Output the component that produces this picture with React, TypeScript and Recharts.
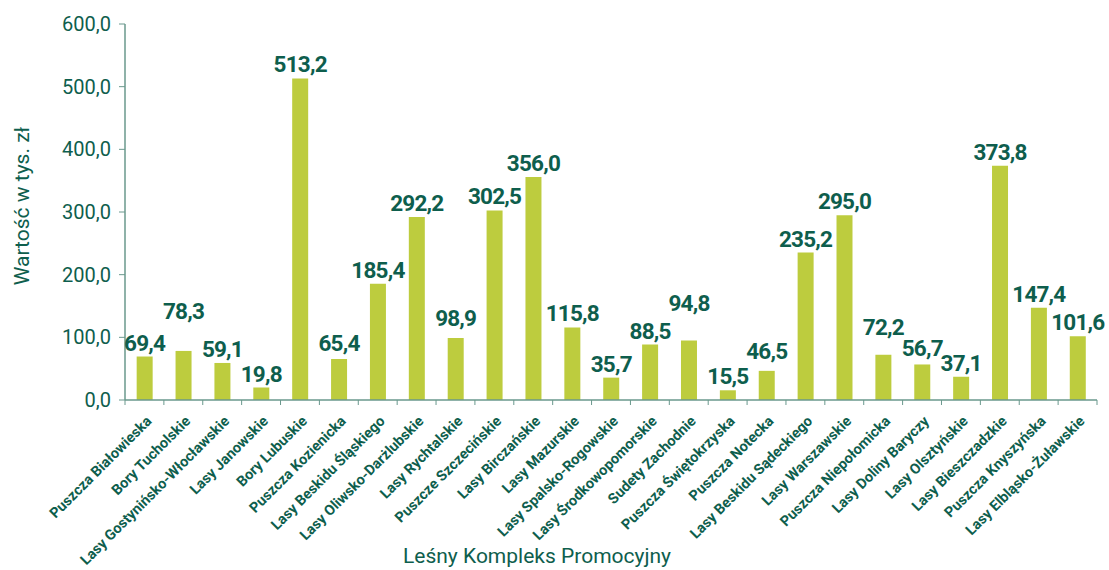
import { BarChart, Bar, XAxis, YAxis, LabelList } from 'recharts';

const complexes = [
  'Puszcza Białowieska', 'Bory Tucholskie', 'Lasy Gostynińsko-Włocławskie', 'Lasy Janowskie',
  'Bory Lubuskie', 'Puszcza Kozienicka', 'Lasy Beskidu Śląskiego', 'Lasy Oliwsko-Darżlubskie',
  'Lasy Rychtalskie', 'Puszcze Szczecińskie', 'Lasy Birczańskie', 'Lasy Mazurskie',
  'Lasy Spalsko-Rogowskie', 'Lasy Środkowopomorskie', 'Sudety Zachodnie', 'Puszcza Świętokrzyska',
  'Puszcza Notecka', 'Lasy Beskidu Sądeckiego', 'Lasy Warszawskie', 'Puszcza Niepołomicka',
  'Lasy Doliny Baryczy', 'Lasy Olsztyńskie', 'Lasy Bieszczadzkie', 'Puszcza Knyszyńska',
  'Lasy Elbląsko-Żuławskie',
];

const values = [
  69.4, 78.3, 59.1, 19.8, 513.2, 65.4, 185.4, 292.2, 98.9, 302.5, 356.0, 115.8, 35.7,
  88.5, 94.8, 15.5, 46.5, 235.2, 295.0, 72.2, 56.7, 37.1, 373.8, 147.4, 101.6,
];

const yTicks = [0, 100, 200, 300, 400, 500, 600];

// extra lift (px) for value labels that Excel pushed up to avoid overlaps
const labelLift = [0, 26, 0, 0, 0, 2, 0, 0, 6, 0, 0, 0, 0, 0, 24, 0, 6, 0, 0, 14, 2, 0, 0, 0, 0];

const TEXT = '#0e5e4d';
const AXIS = '#6a988d';
const BAR = '#bdcc3e';
const FONT = 'Roboto, "Noto Sans", sans-serif';

const W = 1109;
const H = 570;
const X_AXIS_H = 170;
const margin = { top: 24, right: 12, left: 0, bottom: 0 };
const Y_AXIS_W = 125;
const band = (W - margin.left - margin.right - Y_AXIS_W) / complexes.length;

const chartData = complexes.map((name, i) => ({ name, value: values[i] }));

const fmt = (v: number) => v.toFixed(1).replace('.', ',');

function CategoryTick(props: any) {
  const { x, y, payload, index } = props;
  const left = x - band / 2;
  const right = x + band / 2;
  return (
    <g>
      <line x1={left} y1={y} x2={left} y2={y + 5} stroke={AXIS} strokeWidth={1} />
      {index === complexes.length - 1 && (
        <line x1={right} y1={y} x2={right} y2={y + 5} stroke={AXIS} strokeWidth={1} />
      )}
      <text
        x={x + 8}
        y={y + 22}
        textAnchor="end"
        transform={`rotate(-45, ${x + 8}, ${y + 22})`}
        fill={TEXT}
        fontFamily={FONT}
        fontSize={14.5}
        fontWeight={700}
      >
        {payload.value}
      </text>
    </g>
  );
}

function ValueLabel(props: any) {
  const { x, y, width, value, index } = props;
  const i = typeof index === 'number' ? index : values.indexOf(value);
  const cx = x + width / 2;
  return (
    <text
      x={cx}
      y={y - 6 - (labelLift[i] || 0)}
      textAnchor="middle"
      fill={TEXT}
      fontFamily={FONT}
      fontSize={22.5}
      fontWeight={700}
      letterSpacing={-0.8}
    >
      {fmt(Number(value))}
    </text>
  );
}

export default function App() {
  return (
    <div style={{ position: 'absolute', left: 0, top: 0, width: W, height: H, background: '#fff' }}>
      <BarChart width={W} height={H} data={chartData} margin={margin} barCategoryGap="30%">
        <XAxis
          dataKey="name"
          height={X_AXIS_H}
          interval={0}
          tick={<CategoryTick />}
          tickLine={false}
          tickSize={0}
          tickMargin={0}
          axisLine={{ stroke: AXIS, strokeWidth: 1.5 }}
          label={{
            content: () => (
              <text x={537} y={563} textAnchor="middle" fill={TEXT} fontFamily={FONT} fontSize={21}>
                Leśny Kompleks Promocyjny
              </text>
            ),
          }}
        />
        <YAxis
          width={Y_AXIS_W}
          domain={[0, 600]}
          ticks={yTicks}
          interval={0}
          tickFormatter={fmt}
          tickSize={6}
          tickMargin={8}
          tick={{ fill: TEXT, fontFamily: FONT, fontSize: 20 }}
          tickLine={{ stroke: AXIS }}
          axisLine={{ stroke: AXIS, strokeWidth: 1.5 }}
          label={{
            content: ({ viewBox }: any) => {
              const cx = 22;
              const cy = viewBox.y + viewBox.height / 2 - 6;
              return (
                <text
                  x={cx}
                  y={cy}
                  textAnchor="middle"
                  dominantBaseline="central"
                  transform={`rotate(-90, ${cx}, ${cy})`}
                  fill={TEXT}
                  fontFamily={FONT}
                  fontSize={21}
                >
                  Wartość w tys. zł
                </text>
              );
            },
          }}
        />
        <Bar dataKey="value" fill={BAR} isAnimationActive={false}>
          <LabelList dataKey="value" content={<ValueLabel />} />
        </Bar>
      </BarChart>
    </div>
  );
}
